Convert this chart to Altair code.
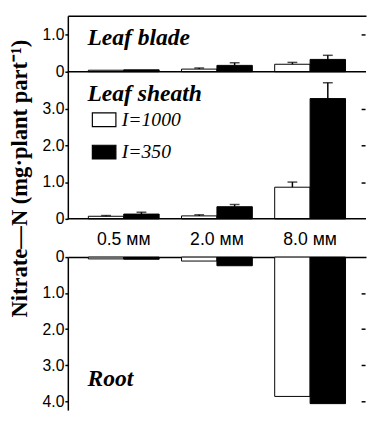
import altair as alt
import pandas as pd

# ---------------- data ----------------
cats = ["0.5 ᴍᴍ", "2.0 ᴍᴍ", "8.0 ᴍᴍ"]
series = ["I=1000", "I=350"]

blade_i1000 = [0.04, 0.07, 0.20]
blade_i1000_err = [0.0, 0.03, 0.05]
blade_i350 = [0.05, 0.17, 0.33]
blade_i350_err = [0.0, 0.07, 0.11]

sheath_i1000 = [0.07, 0.08, 0.86]
sheath_i1000_err = [0.02, 0.03, 0.14]
sheath_i350 = [0.13, 0.33, 3.27]
sheath_i350_err = [0.05, 0.06, 0.43]

root_i1000 = [0.05, 0.11, 3.87]
root_i1000_err = [0.0, 0.0, 0.0]
root_i350 = [0.06, 0.24, 4.07]
root_i350_err = [0.0, 0.0, 0.0]

panel_names = ["Leaf blade", "Leaf sheath", "Root"]
y_title = "Nitrate\u2014N    (mg\u00b7plant part\u207b\u00b9)"

blade_ticks = [0, 1]
sheath_ticks = [0, 1, 2, 3]
root_ticks = [0, 1, 2, 3, 4]

SERIF = "Liberation Serif"
SANS = "Liberation Sans"
W = 304
GAP = 39  # room for the concentration labels above the root panel


def frame(a, a_err, b, b_err):
    rows = []
    for i, c in enumerate(cats):
        rows.append({"conc": c, "series": series[0], "value": a[i], "err": a_err[i], "hi": a[i] + a_err[i]})
        rows.append({"conc": c, "series": series[1], "value": b[i], "err": b_err[i], "hi": b[i] + b_err[i]})
    return pd.DataFrame(rows)


legend = alt.Legend(
    orient="none", legendX=24, legendY=93, title=None,
    symbolType="M-1,-0.583H1V0.583H-1Z", symbolSize=576,
    symbolStrokeColor="black", symbolStrokeWidth=1.2,
    labelFont=SERIF, labelFontStyle="italic", labelFontSize=20,
    labelColor="black", labelOffset=5, rowPadding=10,
)

LABEL_EXPR = "datum.value == 0 ? '0' : format(datum.value, '.1f')"


def panel(df, name, ys, height, ticks, xaxis, label_y, zero_rule):
    x = alt.X("conc:N", sort=cats, title=None, axis=xaxis,
              scale=alt.Scale(paddingInner=0.24, paddingOuter=0.22))
    xo = alt.XOffset("series:N", sort=series, scale=alt.Scale(paddingInner=0, paddingOuter=0))

    bars = alt.Chart(df).mark_bar(stroke="black", strokeWidth=1).encode(
        x=x, xOffset=xo,
        y=alt.Y("value:Q", scale=ys, title=None,
                axis=alt.Axis(orient="left", values=ticks, labelExpr=LABEL_EXPR,
                              tickSize=3, labelPadding=1)),
        fill=alt.Fill("series:N", sort=series,
                      scale=alt.Scale(domain=series, range=["white", "black"]),
                      legend=legend),
    )
    err = alt.Chart(df).transform_filter("datum.err > 0").mark_rule(
        color="black", strokeWidth=1.5).encode(
        x=x, xOffset=xo,
        y=alt.Y("value:Q", scale=ys, title=None,
                axis=alt.Axis(orient="right", values=[t for t in ticks if t > 0],
                              labels=False, domain=False, tickSize=4, offset=-5)),
        y2="hi:Q",
    )
    cap = alt.Chart(df).transform_filter("datum.err > 0").mark_tick(
        color="black", size=10, thickness=1.5).encode(
        x=x, xOffset=xo, y=alt.Y("hi:Q", scale=ys, axis=None),
    )
    label = alt.Chart(pd.DataFrame({"name": [name]})).mark_text(
        align="left", baseline="alphabetic", font=SERIF, fontSize=24,
        fontStyle="italic", fontWeight="bold", color="black").encode(
        text="name:N", x=alt.value(20), y=alt.value(label_y))
    layers = [bars, err, cap, label]
    if zero_rule:
        layers.append(alt.Chart(pd.DataFrame({"z": [0]})).mark_rule(
            color="black", strokeWidth=1.5).encode(y=alt.Y("z:Q", scale=ys, axis=None)))
    return alt.layer(*layers).resolve_axis(y="independent").properties(width=W, height=height)


top_border = alt.Axis(orient="top", labels=False, ticks=False, domain=True, title=None)
cat_axis = alt.Axis(orient="top", offset=-GAP, domain=True, ticks=False, labelPadding=9,
                    labelFont=SANS, labelFontSize=18, labelAngle=0, title=None)

c1 = panel(frame(blade_i1000, blade_i1000_err, blade_i350, blade_i350_err),
           panel_names[0], alt.Scale(domain=[0, 1.5], nice=False), 57,
           blade_ticks, top_border, 29.5, True)
c2 = panel(frame(sheath_i1000, sheath_i1000_err, sheath_i350, sheath_i350_err),
           panel_names[1], alt.Scale(domain=[0, 4.0], nice=False), 150,
           sheath_ticks, None, 30, True)
c3 = panel(frame(root_i1000, root_i1000_err, root_i350, root_i350_err),
           panel_names[2], alt.Scale(domain=[0, 4.25], nice=False, range=[GAP, GAP + 156]),
           GAP + 156, root_ticks, cat_axis, GAP + 131.7, False)

chart = alt.vconcat(c1, c2, c3, spacing=0, bounds="flush").properties(
    padding={"left": 1, "top": 4, "right": 0, "bottom": 0},
    title=alt.TitleParams(y_title, orient="left", anchor="middle", font=SERIF,
                          fontSize=23, fontWeight="bold", color="black",
                          offset=10, dx=35),
).configure_view(stroke=None).configure_axis(
    domainColor="black", tickColor="black", labelColor="black",
    domainWidth=1.5, tickWidth=1.5, grid=False,
    labelFont=SANS, labelFontSize=16,
)

chart.save("out.html", embed_options={"renderer": "svg", "actions": False})
